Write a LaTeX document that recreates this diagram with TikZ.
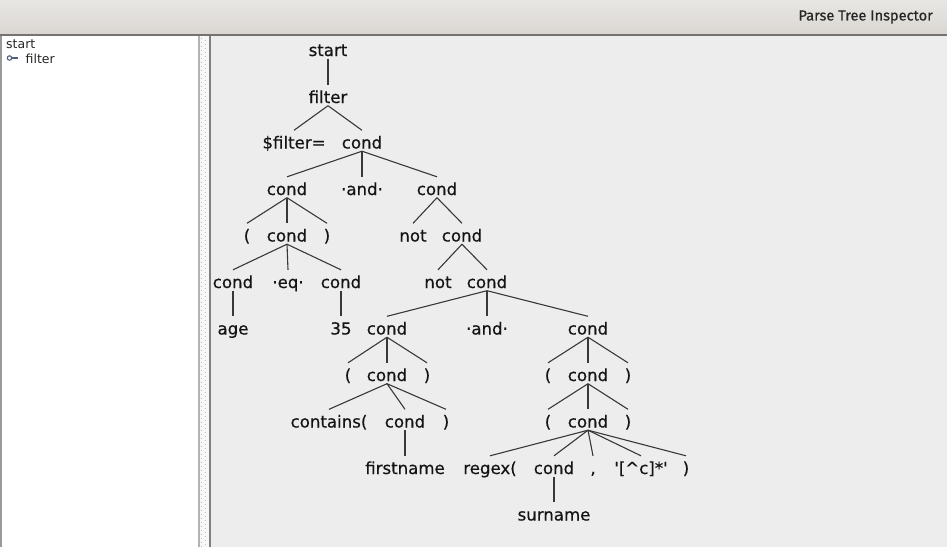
\documentclass[tikz,border=0pt]{standalone}
\usepackage{fontspec}
\setmainfont{DejaVu Sans}[Ligatures=TeXOff]
\newfontfamily\treefont{DejaVu Sans}[Ligatures=TeXOff, FakeBold=0.5]
\newfontfamily\titlefont{Fira Sans}[FakeBold=0.6]
\begin{document}
\begin{tikzpicture}[x=1pt,y=-1pt,
  tn/.style={font=\treefont\fontsize{16.6}{19}\selectfont, text=black!92, text height=15.5pt, text depth=0pt, inner xsep=0pt, inner ysep=2.5pt, anchor=base},
  edge/.style={draw=black!78, line width=1.1pt},
  side/.style={font=\fontsize{12.5}{14}\selectfont, text=black!85, inner sep=0pt, anchor=base west}]
\useasboundingbox (0,0) rectangle (947,547);
% title bar
\shade[top color={rgb,255:red,232;green,230;blue,227}, bottom color={rgb,255:red,218;green,215;blue,211}] (0,0) rectangle (947,34);
\fill[black!55] (0,33.5) rectangle (947,36);
\node[anchor=east, inner sep=0pt, font=\titlefont\fontsize{14.6}{16}\selectfont, text=black!85] (title) at (933,17) {Parse Tree Inspector};
% left panel
\fill[black!40] (0,36) rectangle (2,547);
\fill[white] (2,36) rectangle (198,547);
\fill[black!30] (198,36) rectangle (199.5,547);
\fill[black!3] (199.5,36) rectangle (209,547);
\foreach \yy in {38,42,...,546} {
  \fill[black!25] (201,\yy) rectangle (202.2,\yy+1.2);
  \fill[black!25] (204.5,\yy+2) rectangle (205.7,\yy+3.2);
}
\fill[black!50] (209,36) rectangle (211,547);
\fill[black!7] (211,36) rectangle (947,547);
\node[side] (sstart) at (6,48.5) {start};
\node[side] (sfilter) at (25.5,63) {filter};
\draw[line width=1.1pt, draw={rgb,255:red,80;green,95;blue,125}] (9.5,58) circle (2.2);
\draw[line width=1.1pt, draw={rgb,255:red,80;green,95;blue,125}] (11.7,58) -- (18,58);
% tree nodes
\node[tn] (n1) at (328,56) {start};
\node[tn] (n2) at (328,103) {filter};
\node[tn] (n3) at (294,148.5) {\$filter=};
\node[tn] (n4) at (362,148.5) {cond};
\node[tn] (n5) at (287,195) {cond};
\node[tn] (n6) at (362,195) {·and·};
\node[tn] (n7) at (437,195) {cond};
\node[tn] (n8) at (247,241.5) {(};
\node[tn] (n9) at (287,241.5) {cond};
\node[tn] (n10) at (327,241.5) {)};
\node[tn] (n11) at (413,241.5) {not};
\node[tn] (n12) at (462,241.5) {cond};
\node[tn] (n13) at (233,288) {cond};
\node[tn] (n14) at (288,288) {·eq·};
\node[tn] (n15) at (341,288) {cond};
\node[tn] (n16) at (438,288) {not};
\node[tn] (n17) at (487,288) {cond};
\node[tn] (n18) at (233,334.5) {age};
\node[tn] (n19) at (341,334.5) {35};
\node[tn] (n20) at (387,334.5) {cond};
\node[tn] (n21) at (487,334.5) {·and·};
\node[tn] (n22) at (588,334.5) {cond};
\node[tn] (n23) at (348,381) {(};
\node[tn] (n24) at (387,381) {cond};
\node[tn] (n25) at (427,381) {)};
\node[tn] (n26) at (548,381) {(};
\node[tn] (n27) at (588,381) {cond};
\node[tn] (n28) at (628,381) {)};
\node[tn] (n29) at (329,427.5) {contains(};
\node[tn] (n30) at (405,427.5) {cond};
\node[tn] (n31) at (446,427.5) {)};
\node[tn] (n32) at (548,427.5) {(};
\node[tn] (n33) at (588,427.5) {cond};
\node[tn] (n34) at (628,427.5) {)};
\node[tn] (n35) at (405,474) {firstname};
\node[tn] (n36) at (490,474) {regex(};
\node[tn] (n37) at (554,474) {cond};
\node[tn] (n38) at (593,474) {,};
\node[tn] (n39) at (641,474) {'[\textasciicircum c]*'};
\node[tn] (n40) at (686,474) {)};
\node[tn] (n41) at (554,520.5) {surname};
% edges
\foreach \p/\c in {n1/n2, n2/n3, n2/n4, n4/n5, n4/n6, n4/n7, n5/n8, n5/n9, n5/n10,
  n7/n11, n7/n12, n9/n13, n9/n14, n9/n15, n12/n16, n12/n17, n13/n18, n15/n19,
  n17/n20, n17/n21, n17/n22, n20/n23, n20/n24, n20/n25, n22/n26, n22/n27, n22/n28,
  n24/n29, n24/n30, n24/n31, n27/n32, n27/n33, n27/n34, n30/n35,
  n33/n36, n33/n37, n33/n38, n33/n39, n33/n40, n37/n41}
  \draw[edge] (\p.south) -- (\c.north);
\end{tikzpicture}
\end{document}
